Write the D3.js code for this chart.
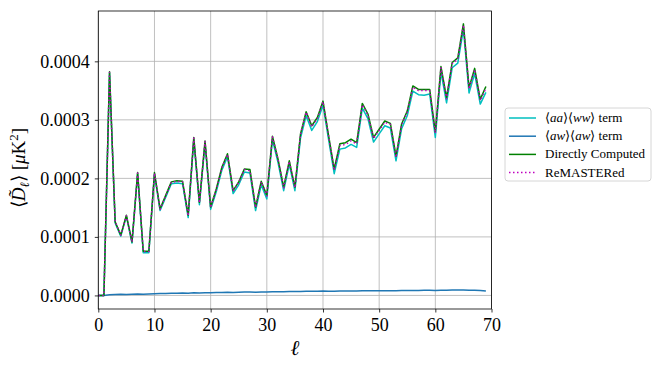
<!DOCTYPE html>
<html><head><meta charset="utf-8">
<script src="https://cdn.jsdelivr.net/npm/d3@7"></script>
<style>
body{margin:0;background:#fff;}
svg text{font-family:"Liberation Serif","Times New Roman",serif !important;fill:#000;}
</style></head>
<body><svg id="c" width="664" height="369"></svg>
<script>
const ell = d3.range(0, 70);
const direct = [0,0,0.000382,0.000126,0.000103,0.000137,0.0000914,0.000210,0.0000754,0.0000754,
0.000210,0.000148,0.000171,0.000194,0.000196,0.000195,0.000137,0.000270,0.000159,0.000264,
0.000151,0.000182,0.000219,0.000242,0.000179,0.000194,0.000216,0.000215,0.000151,0.000195,
0.000171,0.000272,0.000233,0.000185,0.000230,0.000185,0.000276,0.000314,0.000290,0.000304,
0.000332,0.000273,0.000216,0.000259,0.000261,0.000267,0.000261,0.000328,0.000310,0.000270,
0.000284,0.000298,0.000294,0.000238,0.000293,0.000315,0.000358,0.000352,0.000352,0.000352,
0.000279,0.000391,0.000338,0.000398,0.000406,0.000464,0.000355,0.000388,0.000335,0.000357];
const remaster = [0,0,0.000381,0.000126,0.000103,0.000136,0.0000912,0.000209,0.0000750,0.0000751,
0.000209,0.000147,0.000170,0.000193,0.000195,0.000194,0.000136,0.000269,0.000158,0.000263,
0.000150,0.000181,0.000218,0.000241,0.000178,0.000193,0.000215,0.000213,0.000150,0.000194,
0.000170,0.000271,0.000232,0.000184,0.000229,0.000184,0.000275,0.000313,0.000288,0.000302,
0.000331,0.000272,0.000214,0.000256,0.000258,0.000264,0.000259,0.000326,0.000308,0.000268,
0.000282,0.000296,0.000292,0.000236,0.000291,0.000313,0.000356,0.000350,0.000350,0.000350,
0.000277,0.000389,0.000336,0.000396,0.000404,0.000462,0.000353,0.000386,0.000333,0.000354];
const aaww = [0,0,0.000380,0.000124,0.000101,0.000135,0.0000895,0.000208,0.0000728,0.0000728,
0.000207,0.000145,0.000168,0.000191,0.000192,0.000191,0.000133,0.000266,0.000155,0.000260,
0.000147,0.000177,0.000214,0.000237,0.000174,0.000189,0.000211,0.000209,0.000145,0.000189,
0.000165,0.000266,0.000227,0.000179,0.000224,0.000179,0.000269,0.000307,0.000282,0.000297,
0.000325,0.000266,0.000208,0.000250,0.000252,0.000258,0.000253,0.000320,0.000302,0.000262,
0.000276,0.000290,0.000286,0.000230,0.000285,0.000307,0.000349,0.000343,0.000342,0.000344,
0.000270,0.000382,0.000329,0.000389,0.000397,0.000455,0.000346,0.000379,0.000327,0.000347];
const awaw = [0,0,0.0000010,0.0000014,0.0000018,0.0000016,0.0000020,0.0000024,0.0000022,0.0000026,
0.0000030,0.0000031,0.0000034,0.0000036,0.0000038,0.0000040,0.0000039,0.0000044,0.0000043,0.0000047,
0.0000046,0.0000049,0.0000051,0.0000053,0.0000052,0.0000055,0.0000057,0.0000058,0.0000056,0.0000060,
0.0000060,0.0000064,0.0000064,0.0000063,0.0000066,0.0000065,0.0000069,0.0000071,0.0000070,0.0000072,
0.0000074,0.0000072,0.0000071,0.0000074,0.0000075,0.0000076,0.0000076,0.0000079,0.0000079,0.0000078,
0.0000080,0.0000081,0.0000081,0.0000080,0.0000083,0.0000084,0.0000086,0.0000086,0.0000087,0.0000087,
0.0000086,0.0000090,0.0000089,0.0000091,0.0000091,0.0000093,0.0000090,0.0000089,0.0000084,0.0000075];
const xTicks = [0,10,20,30,40,50,60,70];
const yTicks = [0,0.0001,0.0002,0.0003,0.0004];
const yTickLabels = ["0.0000","0.0001","0.0002","0.0003","0.0004"];

const svg = d3.select("#c");
const L = 98.3, R = 491.5, T = 11, B = 309;
const x = d3.scaleLinear().domain([0,70]).range([L,R]);
const y = d3.scaleLinear().domain([-0.0000232, 0.000486]).range([B,T]);

// grid
const g = svg.append("g");
g.selectAll("line.gx").data(xTicks).join("line")
  .attr("x1",d=>x(d)).attr("x2",d=>x(d)).attr("y1",T).attr("y2",B)
  .attr("stroke","#b0b0b0").attr("stroke-width",0.8);
g.selectAll("line.gy").data(yTicks).join("line")
  .attr("y1",d=>y(d)).attr("y2",d=>y(d)).attr("x1",L).attr("x2",R)
  .attr("stroke","#b0b0b0").attr("stroke-width",0.8);

svg.append("clipPath").attr("id","cp").append("rect")
  .attr("x",L).attr("y",T).attr("width",R-L).attr("height",B-T);

const line = arr => d3.line().x((d,i)=>x(ell[i])).y(d=>y(d))(arr);
const series = [
  {data:aaww, color:"#00bfbf", dash:null},
  {data:awaw, color:"#1f77b4", dash:null},
  {data:direct, color:"#008000", dash:null},
  {data:remaster, color:"#bf00bf", dash:"1.5,2.5"}
];
const pg = svg.append("g").attr("clip-path","url(#cp)");
series.forEach(s=>{
  pg.append("path").attr("d",line(s.data)).attr("fill","none")
    .attr("stroke",s.color).attr("stroke-width",1.5)
    .attr("stroke-linejoin","round")
    .attr("stroke-dasharray",s.dash);
});

// axes
const xAxis = d3.axisBottom(x).tickValues(xTicks).tickSize(3.5).tickPadding(5).tickFormat(d3.format("d"));
const yAxis = d3.axisLeft(y).tickValues(yTicks).tickSize(3.5).tickPadding(5).tickFormat((d,i)=>yTickLabels[i]);
const gx = svg.append("g").attr("transform",`translate(0,${B})`).call(xAxis);
const gy = svg.append("g").attr("transform",`translate(${L},0)`).call(yAxis);
[gx,gy].forEach(a=>{
  a.attr("font-family",null);
  a.select(".domain").remove();
  a.selectAll("line").attr("stroke","#000").attr("stroke-width",0.8);
  a.selectAll("text").attr("font-size",18).attr("fill","#000");
});
gx.selectAll("text").attr("dy","0.75em").attr("y",8);
svg.append("rect").attr("x",L).attr("y",T).attr("width",R-L).attr("height",B-T)
  .attr("fill","none").attr("stroke","#000").attr("stroke-width",0.8);

// axis labels
svg.append("text").attr("x",(L+R)/2).attr("y",355).attr("text-anchor","middle")
  .attr("font-size",21).attr("font-style","italic").text("ℓ");
const yl = svg.append("text").attr("transform",`translate(25,${(T+B)/2+8}) rotate(-90)`)
  .attr("text-anchor","middle").attr("font-size",19);
yl.append("tspan").text("⟨");
yl.append("tspan").attr("font-style","italic").text("D\u0303");
yl.append("tspan").attr("font-style","italic").attr("font-size",13).attr("dy",4).text("ℓ");
yl.append("tspan").attr("dy",-4).text("⟩ [");
yl.append("tspan").attr("font-style","italic").text("μ");
yl.append("tspan").text("K");
yl.append("tspan").attr("font-size",13).attr("dy",-7).text("2");
yl.append("tspan").attr("dy",7).text("]");

// legend
const lg = svg.append("g");
lg.append("rect").attr("x",505).attr("y",108).attr("width",146).attr("height",73).attr("rx",3)
  .attr("fill","#fff").attr("fill-opacity",0.8).attr("stroke","#cccccc").attr("stroke-width",0.8);
const labels = [
  [["⟨",""],["aa","i"],["⟩⟨",""],["ww","i"],["⟩ term",""]],
  [["⟨",""],["aw","i"],["⟩⟨",""],["aw","i"],["⟩ term",""]],
  [["Directly Computed",""]],
  [["ReMASTERed",""]]
];
series.forEach((s,i)=>{
  const yy = 118 + i*18.2;
  lg.append("line").attr("x1",509).attr("x2",536).attr("y1",yy).attr("y2",yy)
    .attr("stroke",s.color).attr("stroke-width",1.5).attr("stroke-dasharray",s.dash);
  const t = lg.append("text").attr("x",545).attr("y",yy+4).attr("font-size",13);
  labels[i].forEach(p=>{
    const sp = t.append("tspan").text(p[0]);
    if (p[1]==="i") sp.attr("font-style","italic");
  });
});
</script></body></html>
